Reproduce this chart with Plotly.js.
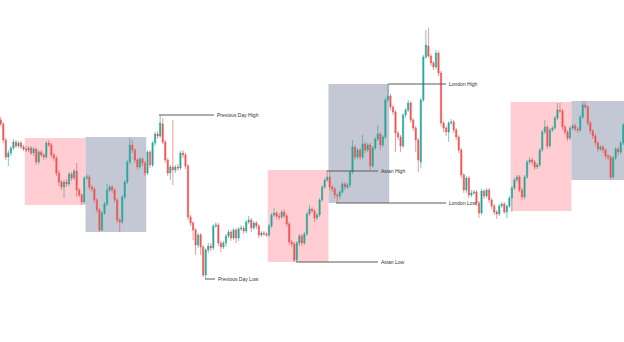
<!DOCTYPE html>
<html>
<head>
<meta charset="utf-8">
<script src="https://cdn.plot.ly/plotly-3.0.1.min.js"></script>
<style>html,body{margin:0;padding:0;background:#fff;}#chart{width:624px;height:342px;}</style>
</head>
<body>
<div id="chart"></div>
<script>
// 15-minute candles (x = candle index)
const open = [230,226,210,193,197,202,208,204,207,203,201,200,202,197,201,188,198,195,193,207,205,195,192,177,168,163,168,166,176,172,179,160,155,148,172,173,163,161,150,140,120,137,146,160,163,160,150,130,128,153,168,188,205,200,190,183,191,187,177,198,185,207,216,214,226,208,190,177,183,180,183,182,197,195,184,133,127,120,105,115,103,75,100,104,102,124,125,107,103,107,114,118,112,120,112,121,122,119,128,130,122,127,124,115,117,116,115,124,135,137,134,133,138,134,126,108,106,90,107,114,107,116,136,141,139,132,135,150,163,170,173,163,161,155,154,158,166,163,165,178,203,193,200,193,206,200,205,184,202,211,216,205,213,250,254,243,238,217,213,204,235,240,247,230,222,210,188,250,293,304,294,287,283,297,277,227,222,218,227,228,220,213,200,175,160,172,155,157,158,147,137,159,154,160,150,144,138,136,144,146,138,144,152,162,170,173,160,153,173,188,190,188,183,185,200,218,223,204,220,222,232,240,239,223,218,212,222,224,221,220,233,245,243,227,219,214,207,201,203,200,194,193,173,192,201,198,207];
const high = [233,228,212,200,204,211,210,209,209,205,204,204,204,203,202,200,200,197,209,210,207,197,194,180,170,170,171,178,178,181,187,162,157,174,176,175,165,163,152,142,139,148,166,165,165,162,152,132,155,170,190,212,210,202,192,193,193,189,200,200,209,218,219,235,232,210,192,185,230,185,186,199,200,197,186,135,129,122,117,117,105,102,107,107,126,128,127,109,109,116,120,120,122,122,123,125,124,130,134,132,129,129,126,119,119,118,126,137,142,139,137,140,141,136,128,110,108,109,116,116,118,138,145,143,141,137,152,165,172,179,178,165,163,157,160,168,168,167,180,210,205,202,202,215,208,207,207,204,213,225,218,215,252,266,256,245,240,219,215,237,242,250,249,232,224,212,252,295,320,322,296,289,300,299,279,229,224,229,231,230,222,215,202,177,174,174,160,160,160,149,161,161,162,162,152,146,140,146,148,148,145,154,164,172,175,175,162,175,190,193,192,190,187,202,220,230,225,222,224,234,247,247,241,225,220,224,226,226,223,235,249,249,245,229,221,216,209,205,205,202,196,195,194,203,203,209,227];
const low = [224,207,190,184,194,200,202,202,201,199,198,198,195,194,185,186,193,190,191,203,192,189,174,164,160,152,163,164,169,170,153,153,145,146,170,160,158,147,137,118,119,135,144,158,157,147,127,118,126,151,166,186,197,187,180,181,184,174,175,182,183,204,211,212,206,187,174,170,165,177,179,180,192,181,130,124,110,95,102,95,73,71,97,99,100,122,104,98,101,103,112,109,110,107,109,119,116,117,126,118,120,121,112,113,114,113,113,122,133,131,130,131,132,123,105,103,88,88,104,104,105,114,134,137,128,130,133,148,161,168,160,158,152,147,151,156,160,161,162,176,190,191,190,191,197,198,180,182,200,209,200,203,211,248,240,235,198,210,198,202,232,238,227,219,198,178,182,248,291,292,284,280,281,274,224,218,214,208,225,217,210,197,172,157,157,152,153,155,144,132,135,151,152,147,141,135,131,134,142,136,132,142,138,160,168,158,150,151,171,186,185,180,181,183,198,216,201,202,218,220,230,237,220,215,209,210,220,219,217,218,231,241,224,216,211,204,198,199,197,191,190,170,171,190,195,196,205];
const close = [226,210,193,197,202,208,204,207,203,201,200,202,197,201,188,198,195,193,207,205,195,192,177,168,163,168,166,176,172,179,160,155,148,172,173,163,161,150,140,120,137,146,160,163,160,150,130,128,153,168,188,205,200,190,183,191,187,177,198,185,207,216,214,227,208,190,177,183,180,183,182,197,195,184,133,127,120,105,115,103,75,100,104,102,124,125,107,103,107,114,118,112,120,112,121,122,119,128,130,122,127,124,115,117,116,115,124,135,137,134,133,138,134,126,108,106,90,107,114,107,116,136,141,139,132,135,150,163,170,173,163,161,155,154,158,166,163,165,178,203,193,200,193,206,200,205,184,202,211,216,205,213,250,254,243,238,217,213,204,235,240,247,230,222,210,190,250,293,305,294,287,283,297,277,227,222,218,227,228,220,213,200,175,160,172,155,157,158,147,137,159,154,160,150,144,138,136,144,146,138,144,152,162,170,173,160,153,173,188,190,188,183,185,200,218,223,204,220,222,232,240,239,223,218,212,222,224,221,220,233,245,243,227,219,214,207,201,203,200,194,193,173,192,201,198,207,225];

// Session boxes
const sessionNames = ['Asian','London','Asian','London','Asian','London'];
const sessionStart = [9.5,33.5,105.5,129.5,201.5,225.5];
const sessionEnd   = [33.5,57.5,129.5,153.5,225.5,249.5];
const sessionHigh  = [212,213,180,266,248,249];
const sessionLow   = [145,118,88,147,139,170];
const sessionColor = {Asian:'#ffcdd2', London:'#c3c8d4'};

// Key levels
const levelNames = ['Previous Day High','Previous Day Low','Asian High','Asian Low','London High','London Low'];
const levelPrice = [235,71,179,88,266,147];
const levelFrom  = [62.5,80.7,128.9,116.7,153.1,132.5];
const levelTo    = [84.3,84.7,149.1,149.1,176,176];

const shapes = [];
sessionNames.forEach((n,i)=>{
  shapes.push({type:'rect',xref:'x',yref:'y',x0:sessionStart[i],x1:sessionEnd[i],y0:sessionLow[i],y1:sessionHigh[i],
    fillcolor:sessionColor[n],line:{width:0},layer:'below'});
});
const annotations = [];
levelNames.forEach((n,i)=>{
  shapes.push({type:'line',xref:'x',yref:'y',x0:levelFrom[i],x1:levelTo[i],y0:levelPrice[i],y1:levelPrice[i],
    line:{color:'#5a5a5a',width:1},layer:'above'});
  annotations.push({xref:'x',yref:'y',x:levelTo[i],y:levelPrice[i],text:n,showarrow:false,xanchor:'left',yanchor:'middle',
    xshift:2,borderpad:0,font:{family:'Liberation Sans, Arial, sans-serif',size:5,color:'#333'}});
});

const trace = {
  type:'candlestick', open:open, high:high, low:low, close:close,
  increasing:{line:{color:'#26a69a',width:0.6},fillcolor:'#26a69a'},
  decreasing:{line:{color:'#ef5350',width:0.6},fillcolor:'#ef5350'},
  whiskerwidth:0, hoverinfo:'none', showlegend:false
};

const layout = {
  width:624, height:342, margin:{l:0,r:0,t:0,b:0},
  paper_bgcolor:'#fff', plot_bgcolor:'#fff', showlegend:false,
  xaxis:{range:[-0.3,246.3],visible:false,rangeslider:{visible:false},fixedrange:true},
  yaxis:{range:[8,350],visible:false,fixedrange:true},
  shapes:shapes, annotations:annotations
};
Plotly.newPlot('chart',[trace],layout,{staticPlot:true,displayModeBar:false});
</script>
</body>
</html>
